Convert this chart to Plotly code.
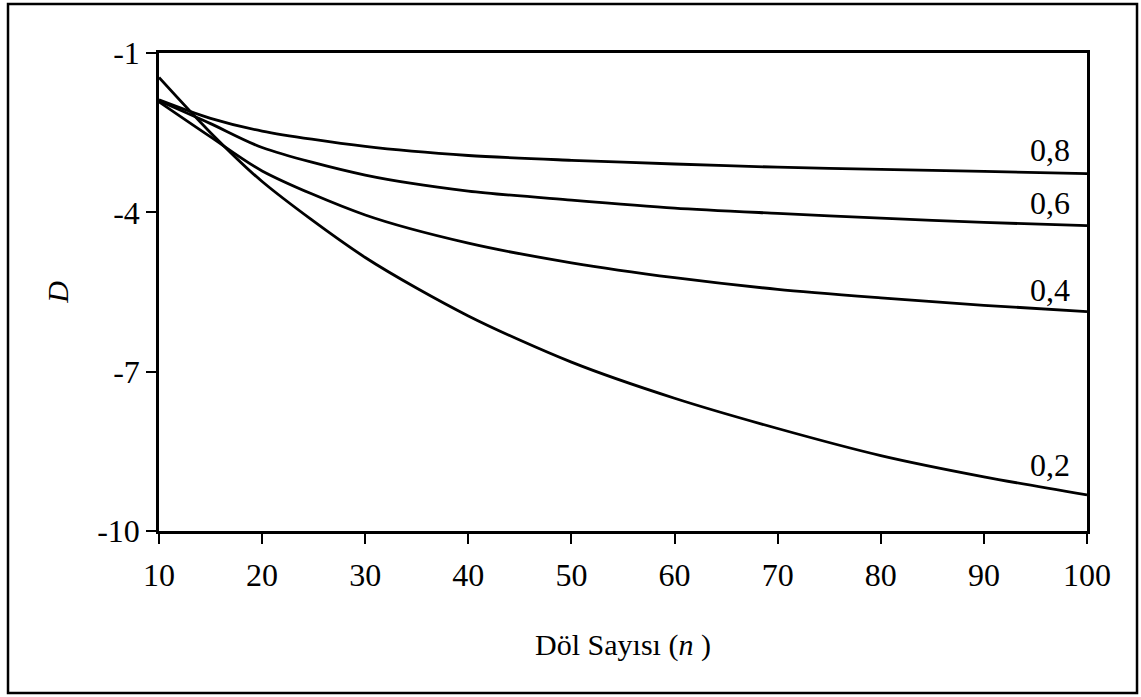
import plotly.graph_objects as go

# Data
n_values = [10, 15, 20, 30, 40, 50, 60, 70, 80, 90, 100]
d_02 = [-1.46, -2.50, -3.42, -4.85, -5.95, -6.82, -7.50, -8.07, -8.58, -8.98, -9.32]
d_04 = [-1.92, -2.58, -3.22, -4.05, -4.58, -4.95, -5.23, -5.45, -5.61, -5.75, -5.87]
d_06 = [-1.90, -2.33, -2.78, -3.30, -3.60, -3.77, -3.92, -4.02, -4.11, -4.19, -4.25]
d_08 = [-1.88, -2.23, -2.47, -2.76, -2.93, -3.02, -3.09, -3.15, -3.19, -3.23, -3.27]
series_labels = ["0,2", "0,4", "0,6", "0,8"]
x_ticks = [10, 20, 30, 40, 50, 60, 70, 80, 90, 100]
y_ticks = [-1, -4, -7, -10]
y_tick_text = ["-1", "-4", "-7", "-10"]

FONT = "Liberation Serif, Times New Roman, serif"

fig = go.Figure()
for ys, lab in zip([d_02, d_04, d_06, d_08], series_labels):
    fig.add_trace(go.Scatter(x=n_values, y=ys, mode="lines", name=lab,
                             line=dict(color="black", width=2.8, shape="spline", smoothing=0.8),
                             showlegend=False, hoverinfo="x+y"))

# curve labels near right end
label_y = {"0,8": -2.83, "0,6": -3.83, "0,4": -5.46, "0,2": -8.76}
for lab in series_labels:
    fig.add_annotation(x=98.5, y=label_y[lab], xref="x", yref="y", text=lab,
                       showarrow=False, xanchor="right", yanchor="middle",
                       font=dict(family=FONT, size=32, color="black"))

# outer frame
fig.add_shape(type="rect", xref="paper", yref="paper",
              x0=-0.1627, x1=1.0539, y0=-0.3389, y1=1.1025,
              line=dict(color="black", width=2.5))

fig.update_layout(
    width=1141, height=697,
    margin=dict(l=159, r=54, t=53, b=166),
    paper_bgcolor="white", plot_bgcolor="white",
    font=dict(family=FONT, color="black", size=30),
    xaxis=dict(range=[10, 100], tickvals=x_ticks, ticks="outside", ticklen=10,
               tickwidth=2, tickcolor="black", showline=True, linecolor="black",
               linewidth=2.5, mirror=True, showgrid=False, zeroline=False,
               ticklabelstandoff=4,
               tickfont=dict(family=FONT, size=32, color="black"),
               title=dict(text="Döl Sayısı (<i>n</i> )", standoff=42,
                          font=dict(family=FONT, size=30, color="black"))),
    yaxis=dict(range=[-10, -1], tickvals=y_ticks, ticktext=y_tick_text,
               ticks="outside", ticklen=10,
               tickwidth=2, tickcolor="black", showline=True, linecolor="black",
               linewidth=2.5, mirror=True, showgrid=False, zeroline=False,
               tickfont=dict(family=FONT, size=32, color="black"),
               title=dict(text="<i>D</i>", standoff=20,
                          font=dict(family=FONT, size=30, color="black"))),
)

fig.write_html("out.html")
